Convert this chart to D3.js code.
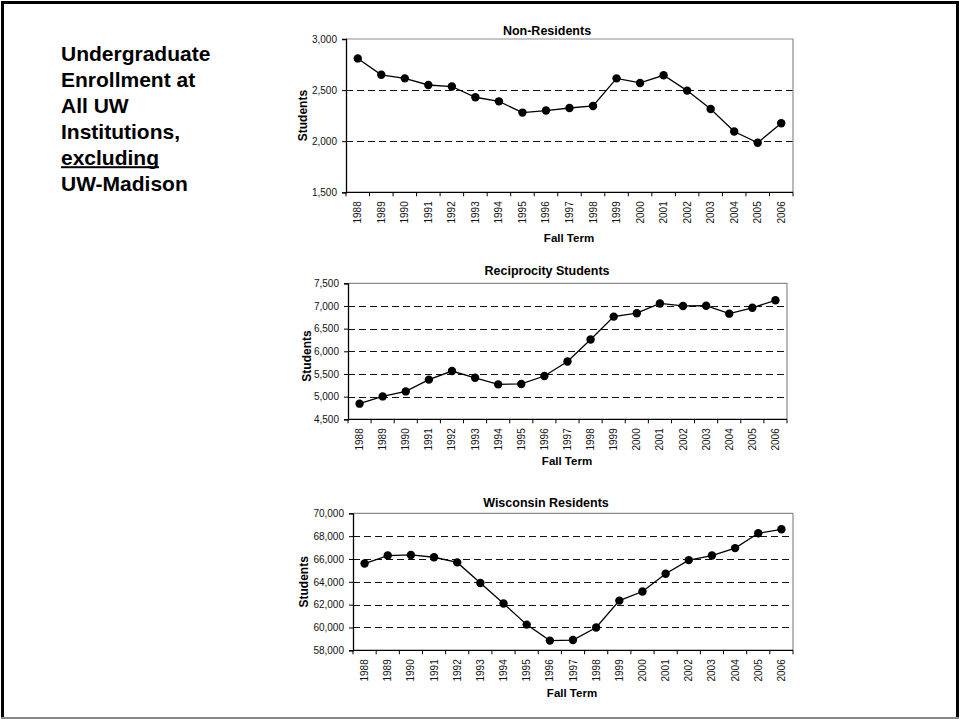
<!DOCTYPE html>
<html><head><meta charset="utf-8">
<script src="https://cdn.jsdelivr.net/npm/d3@7"></script>
<style>
html,body{margin:0;padding:0;background:#fff;overflow:hidden;}
svg{display:block;font-family:"Liberation Sans",Arial,sans-serif;}
</style></head>
<body>
<svg id="c" width="960" height="721"></svg>
<script>
// ---- data ----
const years = ["1988","1989","1990","1991","1992","1993","1994","1995","1996","1997","1998","1999","2000","2001","2002","2003","2004","2005","2006"];
const nonResidents = [2810,2650,2615,2550,2535,2430,2390,2280,2300,2325,2345,2615,2570,2645,2495,2315,2095,1985,2175];
const reciprocity = [4845,5005,5115,5375,5565,5415,5270,5280,5455,5775,6260,6765,6840,7055,7000,7005,6830,6960,7125];
const wisconsin = [65600,66300,66350,66150,65700,63900,62100,60250,58850,58900,60000,62350,63150,64700,65900,66300,66950,68250,68600];
const ticksNonRes = [1500,2000,2500,3000];
const ticksRecip = [4500,5000,5500,6000,6500,7000,7500];
const ticksWisc = [58000,60000,62000,64000,66000,68000,70000];
const titles = ["Non-Residents","Reciprocity Students","Wisconsin Residents"];
const headingLines = ["Undergraduate","Enrollment at","All UW","Institutions,","excluding","UW-Madison"];

// ---- layout ----
const panels = [
  {values: nonResidents, ticks: ticksNonRes, title: titles[0], L:346, R:793, T:39, B:192.3, tx:547, ty:35, fx:569, fy:242, yx:303, yy:115.6},
  {values: reciprocity, ticks: ticksRecip, title: titles[1], L:348, R:787, T:283.3, B:419.3, tx:547, ty:275, fx:567, fy:465, yx:307, yy:356},
  {values: wisconsin, ticks: ticksWisc, title: titles[2], L:353, R:793, T:513.3, B:650.3, tx:546, ty:507, fx:572, fy:697, yx:304, yy:581.8}
];

const svg = d3.select("#c");

// outer frame
svg.append("rect").attr("x",1).attr("y",1).attr("width",958).attr("height",3).attr("fill","#000");
svg.append("rect").attr("x",1).attr("y",1).attr("width",3).attr("height",718).attr("fill","#000");
svg.append("rect").attr("x",956).attr("y",1).attr("width",3).attr("height",718).attr("fill","#000");
svg.append("rect").attr("x",1).attr("y",717).attr("width",958).attr("height",2).attr("fill","#888");

// heading
const head = svg.append("g").attr("font-weight","bold").attr("font-size",21).attr("fill","#000");
headingLines.forEach((t,i)=>{
  const tx = head.append("text").attr("x",61).attr("y",60.7+i*26).text(t);
  if (t === "excluding") {
    const w = tx.node().getComputedTextLength();
    head.append("rect").attr("x",61).attr("y",60.7+i*26+1.5).attr("width",w).attr("height",2).attr("fill","#000");
  }
});

panels.forEach(p=>{
  const g = svg.append("g");
  const x = d3.scaleBand().domain(years).range([p.L,p.R]).padding(0);
  const y = d3.scaleLinear().domain([p.ticks[0], p.ticks[p.ticks.length-1]]).range([p.B,p.T]);

  // grid lines (dashed)
  g.selectAll("line.grid").data(p.ticks.slice(1,-1)).enter().append("line")
    .attr("x1",p.L).attr("x2",p.R).attr("y1",d=>Math.round(y(d))+0.5).attr("y2",d=>Math.round(y(d))+0.5)
    .attr("stroke","#111").attr("stroke-width",1).attr("stroke-dasharray","7,4");

  // plot border top/right grey
  g.append("path").attr("d",`M${p.L},${p.T} H${p.R} V${p.B}`).attr("fill","none").attr("stroke","#8c8c8c").attr("stroke-width",1.2);

  // y axis
  const ya = d3.axisLeft(y).tickValues(p.ticks).tickSize(4).tickPadding(5).tickFormat(d3.format(","));
  const yg = g.append("g").attr("transform",`translate(${p.L},0)`).call(ya);
  yg.select(".domain").attr("stroke","#000").attr("stroke-width",1.3);
  yg.selectAll(".tick line").attr("stroke","#000");
  yg.selectAll("text").attr("font-size",10).attr("fill","#111").attr("font-family","Liberation Sans, Arial, sans-serif");

  // x axis line
  g.append("line").attr("x1",p.L).attr("x2",p.R).attr("y1",p.B).attr("y2",p.B).attr("stroke","#000").attr("stroke-width",1.3);
  // ticks at band edges
  const edges = years.map(d=>x(d)).concat([x(years[years.length-1])+x.bandwidth()]);
  g.selectAll("line.xt").data(edges).enter().append("line")
    .attr("x1",d=>d).attr("x2",d=>d).attr("y1",p.B).attr("y2",p.B+4).attr("stroke","#000");
  // x labels rotated
  g.selectAll("text.xl").data(years).enter().append("text")
    .attr("transform",d=>`translate(${x(d)+x.bandwidth()/2},${p.B+9}) rotate(-90)`)
    .attr("text-anchor","end").attr("dy","0.35em").attr("font-size",10).attr("fill","#111").text(d=>d);

  // line + markers
  const line = d3.line().x((d,i)=>x(years[i])+x.bandwidth()/2).y(d=>y(d));
  g.append("path").datum(p.values).attr("d",line).attr("fill","none").attr("stroke","#000").attr("stroke-width",1.3);
  g.selectAll("circle").data(p.values).enter().append("circle")
    .attr("cx",(d,i)=>x(years[i])+x.bandwidth()/2).attr("cy",d=>y(d)).attr("r",4.2).attr("fill","#000");

  // titles
  g.append("text").attr("x",p.tx).attr("y",p.ty).attr("text-anchor","middle").attr("font-weight","bold").attr("font-size",12.5).text(p.title);
  g.append("text").attr("x",p.fx).attr("y",p.fy).attr("text-anchor","middle").attr("font-weight","bold").attr("font-size",11.5).text("Fall Term");
  g.append("text").attr("transform",`translate(${p.yx},${p.yy}) rotate(-90)`).attr("text-anchor","middle").attr("dy","0.35em")
    .attr("font-weight","bold").attr("font-size",12).text("Students");
});
</script>
</body></html>
